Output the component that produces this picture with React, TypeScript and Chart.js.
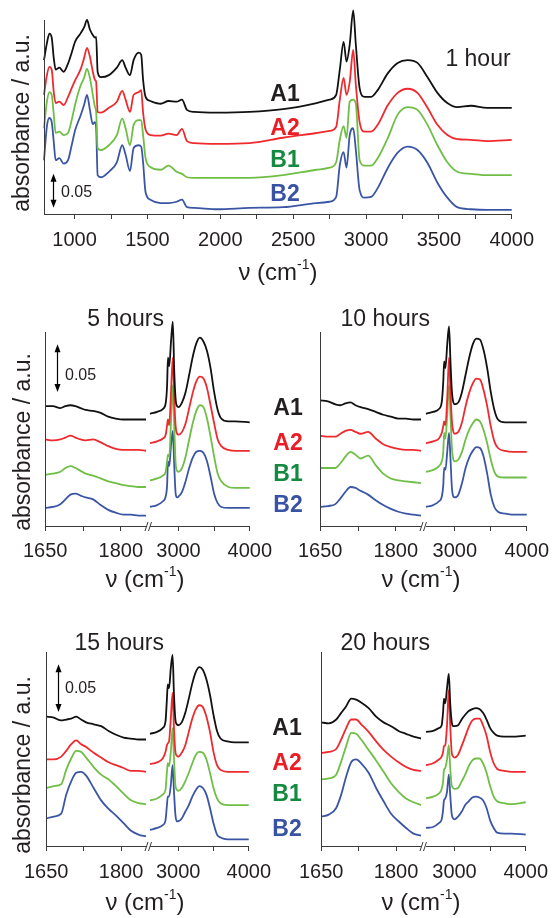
import React, { useEffect, useRef } from 'react';
import { Chart, registerables } from 'chart.js';

Chart.register(...registerables);

// ---------------- data ----------------
const SERIES_NAMES = ['A1', 'A2', 'B1', 'B2'];

// 1 hour, full range (wavenumber, cm-1)
const WN_1H = [790, 810, 827, 843, 857, 870, 895, 925, 955, 980, 1005, 1040, 1065, 1085, 1105, 1125, 1140, 1148, 1158, 1180, 1235, 1290, 1327, 1350, 1380, 1405, 1440, 1457, 1470, 1487, 1520, 1590, 1645, 1700, 1737, 1771, 1820, 1980, 2200, 2430, 2660, 2750, 2795, 2820, 2846, 2866, 2888, 2912, 2930, 2956, 2990, 3035, 3080, 3150, 3217, 3285, 3353, 3422, 3490, 3558, 3626, 3720, 3830, 4000];
const H1_A1 = [0.226, 0.251, 0.265, 0.259, 0.229, 0.212, 0.215, 0.209, 0.221, 0.237, 0.254, 0.265, 0.274, 0.285, 0.271, 0.263, 0.259, 0.26, 0.209, 0.201, 0.204, 0.215, 0.226, 0.215, 0.204, 0.226, 0.237, 0.234, 0.197, 0.172, 0.166, 0.162, 0.166, 0.165, 0.168, 0.153, 0.15, 0.149, 0.15, 0.154, 0.163, 0.168, 0.175, 0.212, 0.253, 0.224, 0.249, 0.299, 0.249, 0.185, 0.172, 0.172, 0.182, 0.207, 0.222, 0.226, 0.222, 0.201, 0.178, 0.163, 0.157, 0.159, 0.156, 0.156];
const H1_A2 = [0.175, 0.204, 0.216, 0.212, 0.179, 0.163, 0.165, 0.16, 0.172, 0.185, 0.197, 0.212, 0.229, 0.244, 0.231, 0.209, 0.197, 0.194, 0.15, 0.149, 0.156, 0.165, 0.181, 0.168, 0.15, 0.175, 0.179, 0.182, 0.149, 0.124, 0.116, 0.115, 0.118, 0.116, 0.125, 0.107, 0.104, 0.103, 0.104, 0.112, 0.119, 0.122, 0.128, 0.168, 0.2, 0.175, 0.194, 0.241, 0.19, 0.135, 0.121, 0.121, 0.131, 0.16, 0.178, 0.184, 0.178, 0.156, 0.131, 0.116, 0.11, 0.109, 0.107, 0.109];
const H1_B1 = [0.126, 0.165, 0.179, 0.175, 0.146, 0.119, 0.121, 0.116, 0.119, 0.138, 0.162, 0.188, 0.2, 0.213, 0.2, 0.175, 0.157, 0.15, 0.097, 0.094, 0.101, 0.116, 0.14, 0.126, 0.101, 0.131, 0.138, 0.138, 0.116, 0.082, 0.069, 0.065, 0.071, 0.062, 0.059, 0.054, 0.053, 0.053, 0.053, 0.057, 0.065, 0.068, 0.076, 0.109, 0.129, 0.112, 0.165, 0.168, 0.162, 0.079, 0.071, 0.071, 0.082, 0.112, 0.146, 0.157, 0.153, 0.131, 0.101, 0.076, 0.062, 0.059, 0.057, 0.057];
const H1_B2 = [0.079, 0.129, 0.141, 0.135, 0.106, 0.079, 0.082, 0.074, 0.079, 0.101, 0.124, 0.144, 0.16, 0.175, 0.153, 0.132, 0.135, 0.126, 0.057, 0.054, 0.062, 0.076, 0.101, 0.087, 0.063, 0.097, 0.101, 0.099, 0.076, 0.032, 0.021, 0.016, 0.016, 0.018, 0.021, 0.01, 0.009, 0.007, 0.009, 0.01, 0.016, 0.018, 0.025, 0.072, 0.091, 0.068, 0.116, 0.126, 0.094, 0.035, 0.024, 0.025, 0.038, 0.068, 0.09, 0.099, 0.094, 0.075, 0.046, 0.024, 0.01, 0.007, 0.006, 0.006];

// broken-axis panels: low range and high range
const WN_LOW = [1650, 1665, 1680, 1690, 1700, 1710, 1720, 1730, 1745, 1760, 1775, 1790, 1805, 1820, 1835, 1850];
const WN_HIGH = [2600, 2700, 2780, 2820, 2840, 2852, 2870, 2895, 2920, 2940, 2960, 2980, 3000, 3050, 3100, 3150, 3200, 3250, 3300, 3350, 3400, 3450, 3500, 3550, 3600, 3700, 3800, 4000];

const H5L_A1 = [0.126, 0.126, 0.124, 0.126, 0.127, 0.126, 0.124, 0.122, 0.121, 0.119, 0.115, 0.113, 0.112, 0.112, 0.112, 0.112];
const H5L_A2 = [0.091, 0.09, 0.091, 0.093, 0.095, 0.093, 0.091, 0.09, 0.091, 0.088, 0.084, 0.081, 0.08, 0.08, 0.08, 0.079];
const H5L_B1 = [0.054, 0.055, 0.057, 0.061, 0.063, 0.061, 0.058, 0.055, 0.053, 0.05, 0.047, 0.045, 0.043, 0.042, 0.041, 0.041];
const H5L_B2 = [0.019, 0.02, 0.023, 0.028, 0.033, 0.034, 0.032, 0.03, 0.028, 0.022, 0.017, 0.014, 0.012, 0.012, 0.011, 0.011];
const H5H_A1 = [0.118, 0.12, 0.123, 0.129, 0.148, 0.177, 0.168, 0.194, 0.215, 0.163, 0.133, 0.126, 0.125, 0.13, 0.141, 0.159, 0.178, 0.192, 0.198, 0.194, 0.184, 0.166, 0.141, 0.122, 0.113, 0.11, 0.11, 0.109];
const H5H_A2 = [0.087, 0.089, 0.092, 0.096, 0.106, 0.112, 0.106, 0.141, 0.177, 0.134, 0.105, 0.097, 0.096, 0.099, 0.108, 0.124, 0.14, 0.152, 0.157, 0.155, 0.145, 0.127, 0.108, 0.091, 0.084, 0.08, 0.079, 0.079];
const H5H_B1 = [0.048, 0.05, 0.053, 0.057, 0.068, 0.075, 0.073, 0.11, 0.148, 0.106, 0.066, 0.058, 0.057, 0.061, 0.073, 0.091, 0.108, 0.121, 0.127, 0.125, 0.113, 0.094, 0.073, 0.055, 0.047, 0.041, 0.04, 0.04];
const H5H_B2 = [0.02, 0.022, 0.026, 0.031, 0.043, 0.068, 0.063, 0.085, 0.1, 0.064, 0.034, 0.03, 0.031, 0.036, 0.047, 0.061, 0.072, 0.078, 0.079, 0.077, 0.068, 0.052, 0.034, 0.024, 0.02, 0.019, 0.019, 0.019];

const H10L_A1 = [0.132, 0.131, 0.128, 0.127, 0.129, 0.13, 0.127, 0.125, 0.123, 0.12, 0.117, 0.115, 0.113, 0.113, 0.112, 0.112];
const H10L_A2 = [0.095, 0.094, 0.094, 0.097, 0.1, 0.101, 0.099, 0.097, 0.099, 0.092, 0.086, 0.083, 0.081, 0.08, 0.08, 0.079];
const H10L_B1 = [0.061, 0.061, 0.061, 0.066, 0.073, 0.078, 0.075, 0.071, 0.074, 0.064, 0.055, 0.05, 0.048, 0.047, 0.046, 0.045];
const H10L_B2 = [0.02, 0.021, 0.023, 0.029, 0.036, 0.041, 0.04, 0.037, 0.033, 0.027, 0.022, 0.018, 0.015, 0.013, 0.012, 0.011];
const H10H_A1 = [0.118, 0.12, 0.123, 0.131, 0.152, 0.173, 0.166, 0.191, 0.21, 0.173, 0.141, 0.13, 0.128, 0.13, 0.141, 0.159, 0.177, 0.191, 0.197, 0.196, 0.185, 0.166, 0.141, 0.122, 0.112, 0.109, 0.109, 0.109];
const H10H_A2 = [0.087, 0.089, 0.092, 0.098, 0.105, 0.11, 0.106, 0.134, 0.177, 0.141, 0.11, 0.099, 0.097, 0.099, 0.109, 0.126, 0.14, 0.15, 0.155, 0.154, 0.143, 0.126, 0.105, 0.089, 0.082, 0.079, 0.078, 0.078];
const H10H_B1 = [0.057, 0.059, 0.063, 0.068, 0.078, 0.098, 0.092, 0.117, 0.148, 0.117, 0.082, 0.07, 0.068, 0.07, 0.078, 0.091, 0.101, 0.108, 0.112, 0.11, 0.101, 0.087, 0.07, 0.057, 0.052, 0.051, 0.051, 0.051];
const H10H_B2 = [0.02, 0.022, 0.026, 0.031, 0.043, 0.061, 0.059, 0.078, 0.098, 0.071, 0.04, 0.031, 0.03, 0.033, 0.045, 0.061, 0.072, 0.079, 0.083, 0.082, 0.073, 0.055, 0.033, 0.02, 0.015, 0.013, 0.012, 0.012];

const H15L_A1 = [0.136, 0.135, 0.132, 0.133, 0.134, 0.136, 0.133, 0.13, 0.128, 0.126, 0.121, 0.117, 0.114, 0.113, 0.112, 0.112];
const H15L_A2 = [0.091, 0.091, 0.094, 0.1, 0.107, 0.111, 0.107, 0.104, 0.098, 0.093, 0.088, 0.085, 0.082, 0.079, 0.079, 0.078];
const H15L_B1 = [0.061, 0.063, 0.065, 0.08, 0.092, 0.1, 0.099, 0.093, 0.083, 0.075, 0.07, 0.063, 0.055, 0.048, 0.045, 0.044];
const H15L_B2 = [0.029, 0.031, 0.034, 0.054, 0.068, 0.077, 0.078, 0.074, 0.061, 0.048, 0.039, 0.032, 0.024, 0.016, 0.012, 0.01];
const H15H_A1 = [0.118, 0.12, 0.124, 0.131, 0.155, 0.17, 0.166, 0.187, 0.201, 0.159, 0.133, 0.128, 0.127, 0.13, 0.14, 0.155, 0.171, 0.183, 0.188, 0.185, 0.175, 0.159, 0.138, 0.121, 0.113, 0.11, 0.109, 0.109];
const H15H_A2 = [0.086, 0.088, 0.092, 0.099, 0.106, 0.108, 0.11, 0.134, 0.161, 0.124, 0.099, 0.095, 0.094, 0.098, 0.106, 0.12, 0.134, 0.144, 0.148, 0.146, 0.136, 0.12, 0.099, 0.085, 0.08, 0.078, 0.078, 0.078];
const H15H_B1 = [0.048, 0.05, 0.054, 0.059, 0.078, 0.087, 0.084, 0.099, 0.124, 0.092, 0.064, 0.059, 0.058, 0.061, 0.068, 0.077, 0.087, 0.096, 0.099, 0.098, 0.091, 0.077, 0.061, 0.05, 0.045, 0.043, 0.043, 0.043];
const H15H_B2 = [0.017, 0.019, 0.022, 0.027, 0.043, 0.052, 0.052, 0.064, 0.085, 0.057, 0.033, 0.026, 0.026, 0.029, 0.036, 0.043, 0.052, 0.059, 0.063, 0.061, 0.054, 0.04, 0.024, 0.012, 0.009, 0.007, 0.007, 0.007];

const H20L_A1 = [0.13, 0.129, 0.133, 0.14, 0.147, 0.155, 0.154, 0.151, 0.145, 0.136, 0.13, 0.126, 0.121, 0.118, 0.115, 0.113];
const H20L_A2 = [0.098, 0.099, 0.102, 0.112, 0.124, 0.133, 0.133, 0.128, 0.12, 0.11, 0.101, 0.094, 0.088, 0.083, 0.08, 0.079];
const H20L_B1 = [0.07, 0.071, 0.075, 0.089, 0.105, 0.119, 0.118, 0.112, 0.101, 0.09, 0.078, 0.066, 0.057, 0.05, 0.046, 0.043];
const H20L_B2 = [0.031, 0.033, 0.04, 0.054, 0.073, 0.088, 0.091, 0.087, 0.077, 0.061, 0.047, 0.034, 0.026, 0.019, 0.013, 0.011];
const H20H_A1 = [0.12, 0.121, 0.124, 0.127, 0.141, 0.155, 0.15, 0.166, 0.181, 0.15, 0.131, 0.126, 0.126, 0.127, 0.133, 0.138, 0.142, 0.144, 0.145, 0.144, 0.14, 0.133, 0.124, 0.119, 0.116, 0.115, 0.115, 0.116];
const H20H_A2 = [0.085, 0.087, 0.091, 0.094, 0.099, 0.105, 0.106, 0.127, 0.164, 0.127, 0.099, 0.094, 0.093, 0.096, 0.105, 0.115, 0.125, 0.132, 0.134, 0.134, 0.127, 0.116, 0.099, 0.087, 0.081, 0.079, 0.078, 0.078];
const H20H_B1 = [0.05, 0.052, 0.055, 0.06, 0.068, 0.08, 0.082, 0.091, 0.106, 0.082, 0.064, 0.061, 0.06, 0.061, 0.068, 0.075, 0.084, 0.09, 0.092, 0.092, 0.087, 0.077, 0.063, 0.052, 0.047, 0.045, 0.044, 0.046];
const H20H_B2 = [0.019, 0.02, 0.024, 0.028, 0.038, 0.048, 0.05, 0.057, 0.075, 0.054, 0.034, 0.029, 0.028, 0.031, 0.036, 0.043, 0.047, 0.051, 0.052, 0.051, 0.048, 0.04, 0.027, 0.019, 0.014, 0.013, 0.013, 0.012];

// ticks
const TICKS_1H = [1000, 1250, 1500, 1750, 2000, 2250, 2500, 2750, 3000, 3250, 3500, 3750, 4000];
const TICK_LABELS_1H = [1000, 1500, 2000, 2500, 3000, 3500, 4000];
const TICKS_LOW = [1650, 1725, 1800];
const TICK_LABELS_LOW = [1650, 1800];
const TICKS_HIGH = [3000, 3500, 4000];
const TICK_LABELS_HIGH = [3000, 4000];
const SCALE_BAR = 0.05;

// ---------------- styles ----------------
const FONT = '"Liberation Sans", Arial, Helvetica, sans-serif';
const TXT = '#231f20';
const AXIS = '#3a3a3a';
const LINE_COLORS = ['#111111', '#ee2a2e', '#6fbe46', '#3b55a5'];
const LABEL_COLORS = ['#231f20', '#ec1c24', '#14893f', '#3953a4'];

const decorPlugin: any = {
  id: 'decor',
  afterDraw(chart: any, _args: any, opts: any) {
    const { ctx, chartArea: a } = chart;
    const ys = chart.scales.y;
    ctx.save();
    ctx.strokeStyle = AXIS;
    ctx.lineWidth = 1;
    if (opts.axisLeft) {
      const x = Math.round(a.left) + 0.5;
      ctx.beginPath();
      ctx.moveTo(x, a.top);
      ctx.lineTo(x, a.bottom + 0.5);
      ctx.stroke();
    }
    if (opts.brk) {
      ctx.beginPath();
      for (const dx of [0, 3.5]) {
        ctx.moveTo(a.right - 1 + dx, a.bottom + 5);
        ctx.lineTo(a.right + 2 + dx, a.bottom - 4);
      }
      ctx.stroke();
    }
    if (opts.bar) {
      const x = Math.round(a.left + opts.bar.dx) + 0.5;
      const y1 = ys.getPixelForValue(opts.bar.from);
      const y2 = ys.getPixelForValue(opts.bar.from + SCALE_BAR);
      ctx.strokeStyle = '#000';
      ctx.fillStyle = '#000';
      ctx.lineWidth = 1.2;
      ctx.beginPath();
      ctx.moveTo(x, y1 - 4);
      ctx.lineTo(x, y2 + 4);
      ctx.stroke();
      ctx.beginPath();
      ctx.moveTo(x, y2);
      ctx.lineTo(x - 3, y2 + 8);
      ctx.lineTo(x + 3, y2 + 8);
      ctx.closePath();
      ctx.fill();
      ctx.beginPath();
      ctx.moveTo(x, y1);
      ctx.lineTo(x - 3, y1 - 8);
      ctx.lineTo(x + 3, y1 - 8);
      ctx.closePath();
      ctx.fill();
    }
    ctx.restore();
  },
};

type PanelDef = {
  id: string;
  area: { l: number; t: number; r: number; b: number };
  xMin: number;
  xMax: number;
  yMax: number;
  xs: number[];
  ys: number[][];
  ticks: number[];
  tickLabels: number[];
  tickPad: number;
  axisLeft?: boolean;
  brk?: boolean;
  bar?: { dx: number; from: number } | null;
};

const PAD_L = 30;
const PAD_R = 30;
const PAD_T = 24;
const X_H = 56;

function SpecChart({ p }: { p: PanelDef }) {
  const ref = useRef<HTMLCanvasElement | null>(null);
  const w = p.area.r - p.area.l + PAD_L + PAD_R;
  const h = p.area.b - p.area.t + PAD_T + X_H;
  useEffect(() => {
    if (!ref.current) return;
    const chart = new Chart(ref.current, {
      type: 'line',
      data: {
        datasets: p.ys.map((vals, i) => ({
          label: SERIES_NAMES[i],
          data: p.xs.map((x, j) => ({ x, y: vals[j] })),
          borderColor: LINE_COLORS[i],
          borderWidth: 1.8,
          pointRadius: 0,
          fill: false,
          cubicInterpolationMode: 'monotone',
          clip: false,
        })),
      } as any,
      options: {
        animation: false,
        responsive: false,
        devicePixelRatio: 1,
        events: [],
        layout: { padding: { left: PAD_L, right: PAD_R, top: PAD_T, bottom: 0 }, autoPadding: false },
        plugins: {
          legend: { display: false },
          tooltip: { enabled: false },
          decor: { axisLeft: !!p.axisLeft, brk: !!p.brk, bar: p.bar || null },
        },
        scales: {
          x: {
            type: 'linear',
            min: p.xMin,
            max: p.xMax,
            afterBuildTicks: (axis: any) => {
              axis.ticks = p.ticks.map((v) => ({ value: v }));
            },
            afterFit: (axis: any) => {
              axis.height = X_H;
            },
            ticks: {
              autoSkip: false,
              maxRotation: 0,
              minRotation: 0,
              padding: p.tickPad,
              color: TXT,
              font: { family: FONT, size: 20 },
              callback: (v: any) => (p.tickLabels.includes(Number(v)) ? String(v) : ''),
            },
            grid: { display: true, drawOnChartArea: false, drawTicks: true, tickLength: 5, color: AXIS, lineWidth: 1 },
            border: { display: true, color: AXIS, width: 1 },
          },
          y: { type: 'linear', display: false, min: 0, max: p.yMax },
        },
      } as any,
      plugins: [decorPlugin],
    });
    return () => chart.destroy();
  }, []);
  return (
    <canvas
      ref={ref}
      width={w}
      height={h}
      style={{ position: 'absolute', left: p.area.l - PAD_L, top: p.area.t - PAD_T, width: w, height: h }}
    />
  );
}

function Txt({ x, y, size, bold, color, rotate, anchor, children, family }: any) {
  const tx = anchor === 'right' ? '-100%' : anchor === 'left' ? '0' : '-50%';
  return (
    <div
      style={{
        position: 'absolute',
        left: x,
        top: y,
        transform: `translate(${tx}, -50%)${rotate ? ' rotate(-90deg)' : ''}`,
        fontFamily: family || FONT,
        fontSize: size,
        fontWeight: bold ? 700 : 400,
        color: color || TXT,
        whiteSpace: 'nowrap',
        lineHeight: 1,
      }}
    >
      {children}
    </div>
  );
}

function AxisTitle({ x, y }: { x: number; y: number }) {
  return (
    <Txt x={x} y={y} size={24}>
      <span>ν (cm</span>
      <span style={{ fontSize: 14, position: 'relative', top: -11 }}>-1</span>
      <span>)</span>
    </Txt>
  );
}

const Y_SMALL = 0.204;
const ROW_MID = { t: 332, b: 526 };
const ROW_BOT = { t: 652, b: 846 };

const PANELS: PanelDef[] = [
  { id: '1h', area: { l: 44, t: 20, r: 513, b: 214 }, xMin: 790, xMax: 4000, yMax: 0.285, xs: WN_1H, ys: [H1_A1, H1_A2, H1_B1, H1_B2], ticks: TICKS_1H, tickLabels: TICK_LABELS_1H, tickPad: 9, axisLeft: true, bar: { dx: 9, from: 0.009 } },
  { id: '5l', area: { l: 45, t: ROW_MID.t, r: 146, b: ROW_MID.b }, xMin: 1650, xMax: 1850, yMax: Y_SMALL, xs: WN_LOW, ys: [H5L_A1, H5L_A2, H5L_B1, H5L_B2], ticks: TICKS_LOW, tickLabels: TICK_LABELS_LOW, tickPad: 8, axisLeft: true, brk: true, bar: { dx: 12, from: 0.141 } },
  { id: '5h', area: { l: 150, t: ROW_MID.t, r: 250, b: ROW_MID.b }, xMin: 2600, xMax: 4000, yMax: Y_SMALL, xs: WN_HIGH, ys: [H5H_A1, H5H_A2, H5H_B1, H5H_B2], ticks: TICKS_HIGH, tickLabels: TICK_LABELS_HIGH, tickPad: 8 },
  { id: '10l', area: { l: 320, t: ROW_MID.t, r: 421, b: ROW_MID.b }, xMin: 1650, xMax: 1850, yMax: Y_SMALL, xs: WN_LOW, ys: [H10L_A1, H10L_A2, H10L_B1, H10L_B2], ticks: TICKS_LOW, tickLabels: TICK_LABELS_LOW, tickPad: 8, axisLeft: true, brk: true },
  { id: '10h', area: { l: 426, t: ROW_MID.t, r: 527, b: ROW_MID.b }, xMin: 2600, xMax: 4000, yMax: Y_SMALL, xs: WN_HIGH, ys: [H10H_A1, H10H_A2, H10H_B1, H10H_B2], ticks: TICKS_HIGH, tickLabels: TICK_LABELS_HIGH, tickPad: 8 },
  { id: '15l', area: { l: 45, t: ROW_BOT.t, r: 146, b: ROW_BOT.b }, xMin: 1650, xMax: 1850, yMax: Y_SMALL, xs: WN_LOW, ys: [H15L_A1, H15L_A2, H15L_B1, H15L_B2], ticks: TICKS_LOW, tickLabels: TICK_LABELS_LOW, tickPad: 9, axisLeft: true, brk: true, bar: { dx: 12, from: 0.141 } },
  { id: '15h', area: { l: 150, t: ROW_BOT.t, r: 250, b: ROW_BOT.b }, xMin: 2600, xMax: 4000, yMax: Y_SMALL, xs: WN_HIGH, ys: [H15H_A1, H15H_A2, H15H_B1, H15H_B2], ticks: TICKS_HIGH, tickLabels: TICK_LABELS_HIGH, tickPad: 9 },
  { id: '20l', area: { l: 320, t: ROW_BOT.t, r: 421, b: ROW_BOT.b }, xMin: 1650, xMax: 1850, yMax: Y_SMALL, xs: WN_LOW, ys: [H20L_A1, H20L_A2, H20L_B1, H20L_B2], ticks: TICKS_LOW, tickLabels: TICK_LABELS_LOW, tickPad: 9, axisLeft: true, brk: true },
  { id: '20h', area: { l: 426, t: ROW_BOT.t, r: 527, b: ROW_BOT.b }, xMin: 2600, xMax: 4000, yMax: Y_SMALL, xs: WN_HIGH, ys: [H20H_A1, H20H_A2, H20H_B1, H20H_B2], ticks: TICKS_HIGH, tickLabels: TICK_LABELS_HIGH, tickPad: 9 },
];

function Legend({ x, ys }: { x: number; ys: number[] }) {
  return (
    <>
      {SERIES_NAMES.map((n, i) => (
        <Txt key={n} x={x} y={ys[i]} size={23} bold color={LABEL_COLORS[i]}>
          {n}
        </Txt>
      ))}
    </>
  );
}

export default function App() {
  return (
    <div style={{ position: 'absolute', left: 0, top: 0, width: 552, height: 918, background: '#fff', overflow: 'hidden' }}>
      {PANELS.map((p) => (
        <SpecChart key={p.id} p={p} />
      ))}

      {/* top panel */}
      <Txt x={21} y={123} size={23} rotate>absorbance / a.u.</Txt>
      <Txt x={478} y={58} size={23}>1 hour</Txt>
      <Legend x={285} ys={[93, 127, 159, 193]} />
      <Txt x={61} y={192} size={16} anchor="left">0.05</Txt>
      <AxisTitle x={278} y={272} />

      {/* middle row */}
      <Txt x={22} y={442} size={23} rotate>absorbance / a.u.</Txt>
      <Txt x={164} y={318} size={23} anchor="right">5 hours</Txt>
      <Txt x={430} y={318} size={23} anchor="right">10 hours</Txt>
      <Txt x={65} y={375} size={16} anchor="left">0.05</Txt>
      <Legend x={288} ys={[407, 442, 473, 504]} />
      <AxisTitle x={145} y={579} />
      <AxisTitle x={421} y={579} />

      {/* bottom row */}
      <Txt x={22} y={765} size={23} rotate>absorbance / a.u.</Txt>
      <Txt x={164} y={642} size={23} anchor="right">15 hours</Txt>
      <Txt x={430} y={642} size={23} anchor="right">20 hours</Txt>
      <Txt x={65} y={688} size={16} anchor="left">0.05</Txt>
      <Legend x={287} ys={[727, 762, 793, 828]} />
      <AxisTitle x={145} y={902} />
      <AxisTitle x={421} y={902} />
    </div>
  );
}
